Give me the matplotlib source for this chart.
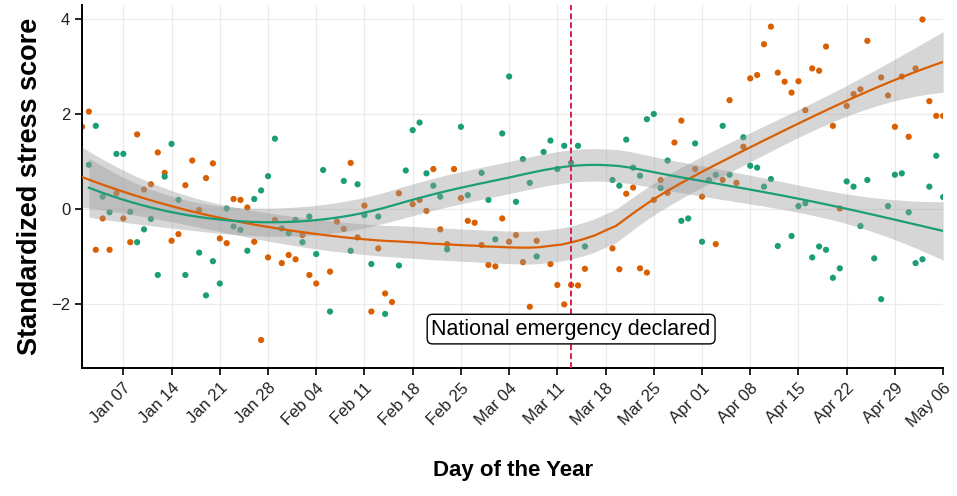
import matplotlib
matplotlib.use("Agg")
import matplotlib.dates as mdates
import matplotlib.pyplot as plt
import numpy as np


plt.rcParams["font.family"] = ["Liberation Sans", "DejaVu Sans"]

# Days are counted from Jan 01 (day 0)
orange_days = [
    0, 1, 2, 3, 4, 5, 6, 7, 8, 9, 10, 11, 12, 13, 14, 15, 16, 17, 18, 19,
    20, 21, 22, 23, 24, 25, 26, 27, 28, 29, 30, 31, 32, 33, 34, 36, 37, 38,
    39, 40, 41, 42, 43, 44, 45, 46, 48, 49, 50, 51, 52, 53, 54, 55, 56, 57,
    58, 59, 60, 61, 62, 63, 64, 65, 66, 68, 69, 70, 71, 72, 73, 77, 78, 79,
    80, 81, 82, 83, 84, 85, 86, 87, 89, 90, 92, 93, 94, 95, 96, 97, 98, 99,
    100, 101, 102, 103, 104, 105, 106, 107, 108, 109, 110, 111, 112, 113,
    114, 116, 117, 118, 119, 120, 121, 122, 123, 124, 125,
]
orange_scores = [
    1.73, 2.05, -0.86, -0.20, -0.86, 0.33, -0.20, -0.70, 1.57, 0.41, 0.52,
    1.19, 0.76, -0.67, -0.53, 0.50, 1.02, -0.02, 0.65, 0.96, -0.62, -0.72,
    0.21, 0.19, 0.03, -0.69, -2.76, -1.02, -0.23, -1.14, -0.97, -1.06, -0.55,
    -1.39, -1.57, -1.32, -0.27, -0.42, 0.97, -0.60, 0.07, -2.16, -0.83, -1.78,
    -1.96, 0.33, 0.10, 0.19, -0.04, 0.84, -0.43, -0.74, 0.84, 0.23, -0.25,
    -0.29, -0.76, -1.18, -1.21, -0.20, -0.69, -0.55, -1.12, -2.06, -0.67,
    -1.16, -1.60, -2.01, -1.60, -1.61, -1.26, -0.83, -1.27, 0.32, 0.45,
    -1.25, -1.34, 0.19, 0.61, 0.34, 1.40, 1.86, 0.84, 0.26, -0.74, 0.61,
    2.29, 0.55, 1.31, 2.75, 2.82, 3.47, 3.84, 2.87, 2.68, 2.45, 2.69, 2.08,
    2.96, 2.91, 3.42, 1.75, 0.01, 2.17, 2.42, 2.52, 3.54, 2.77, 2.39, 1.73,
    2.79, 1.52, 2.96, 3.99, 2.27, 1.96, 1.96,
]

green_days = [
    1, 2, 3, 4, 5, 6, 7, 8, 9, 10, 11, 12, 13, 14, 15, 17, 18, 19, 20, 21,
    22, 23, 24, 25, 26, 27, 28, 29, 30, 31, 32, 33, 34, 35, 36, 38, 39, 40,
    41, 42, 43, 44, 46, 47, 48, 49, 50, 51, 52, 53, 55, 56, 58, 59, 60, 61,
    62, 63, 64, 65, 66, 67, 68, 69, 70, 71, 72, 73, 77, 78, 79, 80, 81, 82,
    83, 84, 85, 87, 88, 89, 90, 91, 92, 93, 94, 96, 97, 98, 99, 100, 101,
    103, 104, 105, 106, 107, 108, 109, 110, 111, 112, 113, 114, 115, 116,
    117, 118, 119, 120, 121, 122, 123, 124, 125,
]
green_scores = [
    0.93, 1.75, 0.26, -0.07, 1.16, 1.16, -0.06, -0.70, -0.43, -0.21, -1.39,
    0.68, 1.37, 0.19, -1.39, -0.92, -1.82, -1.10, -1.57, 0.01, -0.37, -0.44,
    -0.88, 0.21, 0.39, 0.69, 1.48, -0.41, -0.51, -0.23, -0.70, -0.16, -0.95,
    0.82, -2.16, 0.59, -0.88, 0.52, -0.13, -1.16, -0.16, -2.21, -1.19, 0.81,
    1.66, 1.82, 0.75, 0.49, 0.26, -0.85, 1.73, 0.29, 0.76, 0.19, -0.64, 1.59,
    2.79, 0.15, 1.05, 0.55, -1.00, 1.20, 1.44, 0.84, 1.33, 0.97, 1.33, -0.79,
    0.61, 0.49, 1.46, 0.87, 0.70, 1.89, 2.00, 0.44, 1.02, -0.25, -0.20, 1.38,
    -0.69, 0.61, 0.72, 1.75, 0.72, 1.51, 0.91, 0.87, 0.47, 0.63, -0.78,
    -0.57, 0.06, 0.12, -1.02, -0.79, -0.86, -1.45, -1.25, 0.58, 0.47, -0.36,
    0.61, -1.04, -1.90, 0.06, 0.72, 0.75, -0.07, -1.14, -1.06, 0.47, 1.12,
    0.25,
]

start_date = "2019-01-01"
emergency_date = "2019-03-13"
emergency_label = "National emergency declared"

orange_color = "#D95F02"
green_color = "#1B9E77"


def to_date_num(days):
    dates = np.datetime64(start_date) + np.array(days).astype("timedelta64[D]")
    return mdates.date2num(dates)


def loess(x, y, x_new, span=0.75):
    # local quadratic fit with tricube weights, like ggplot's default smoother
    n = len(x)
    q = int(np.floor(n * span))

    def operator_row(x0):
        dist = np.abs(x - x0)
        h = np.sort(dist)[q - 1]
        w = (1 - np.clip(dist / h, 0, 1) ** 3) ** 3
        X = np.column_stack([np.ones(n), x - x0, (x - x0) ** 2])
        XtW = X.T * w
        return np.linalg.solve(XtW @ X, XtW)[0]

    L_new = np.array([operator_row(x0) for x0 in x_new])
    L_data = np.array([operator_row(x0) for x0 in x])

    residuals = y - L_data @ y
    M = np.eye(n) - L_data
    MtM = M.T @ M
    delta1 = np.trace(MtM)
    delta2 = np.trace(MtM @ MtM)
    sigma = np.sqrt(np.sum(residuals ** 2) / delta1)
    se = sigma * np.sqrt(np.sum(L_new ** 2, axis=1))
    t_value = 1.96 + 2.4 / (delta1 ** 2 / delta2)

    fit = L_new @ y
    return fit, fit - t_value * se, fit + t_value * se


fig = plt.figure(figsize=(9.57, 4.96), dpi=100)
ax = fig.add_axes([0.0857, 0.258, 0.8998, 0.7324])

series = [
    (orange_days, orange_scores, orange_color),
    (green_days, green_scores, green_color),
]

for days, scores, color in series:
    ax.scatter(to_date_num(days), scores, s=20, color=color,
               edgecolors="none", zorder=2)

for days, scores, color in series:
    x = np.array(days, dtype=float)
    y = np.array(scores)
    x_grid = np.linspace(x.min(), x.max(), 80)
    fit, low, high = loess(x, y, x_grid)
    x_dates = mdates.date2num(np.datetime64(start_date)) + x_grid
    ax.fill_between(x_dates, low, high, color="#999999", alpha=0.4,
                    linewidth=0, zorder=3)
    ax.plot(x_dates, fit, color=color, linewidth=1.6, zorder=4)

emergency_x = mdates.date2num(np.datetime64(emergency_date))
ax.axvline(emergency_x, color="#DA1F45", linestyle=(0, (3, 1.6)),
           linewidth=1.4, zorder=5)
ax.text(emergency_x, -2.53, emergency_label, ha="center", va="center",
        fontsize=15.5, zorder=6,
        bbox=dict(boxstyle="round,pad=0.2,rounding_size=0.25",
                  facecolor="white", edgecolor="black", linewidth=1.0))

ax.set_xlim(to_date_num([0])[0], to_date_num([125])[0])
ax.set_ylim(-3.35, 4.3)
ax.set_yticks([-2, 0, 2, 4])

ax.xaxis.set_major_locator(mdates.WeekdayLocator(byweekday=mdates.MO))
ax.xaxis.set_major_formatter(mdates.DateFormatter("%b %d"))
plt.setp(ax.get_xticklabels(), rotation=45, ha="right", va="top",
         rotation_mode="anchor")

ax.grid(True, color="#EBEBEB", linewidth=0.9, zorder=0)
ax.set_axisbelow(True)
for side in ["top", "right"]:
    ax.spines[side].set_visible(False)
for side in ["left", "bottom"]:
    ax.spines[side].set_linewidth(1.4)
ax.tick_params(axis="both", length=5, width=1.2, labelsize=12,
               colors="black", labelcolor="#222222")
ax.tick_params(axis="x", pad=4)

ax.set_xlabel("Day of the Year", fontsize=16, fontweight="bold", labelpad=22)
ax.set_ylabel("Standardized stress score", fontsize=19.5, fontweight="bold",
              labelpad=6)

plt.savefig("out.png", dpi=100)
plt.close()
